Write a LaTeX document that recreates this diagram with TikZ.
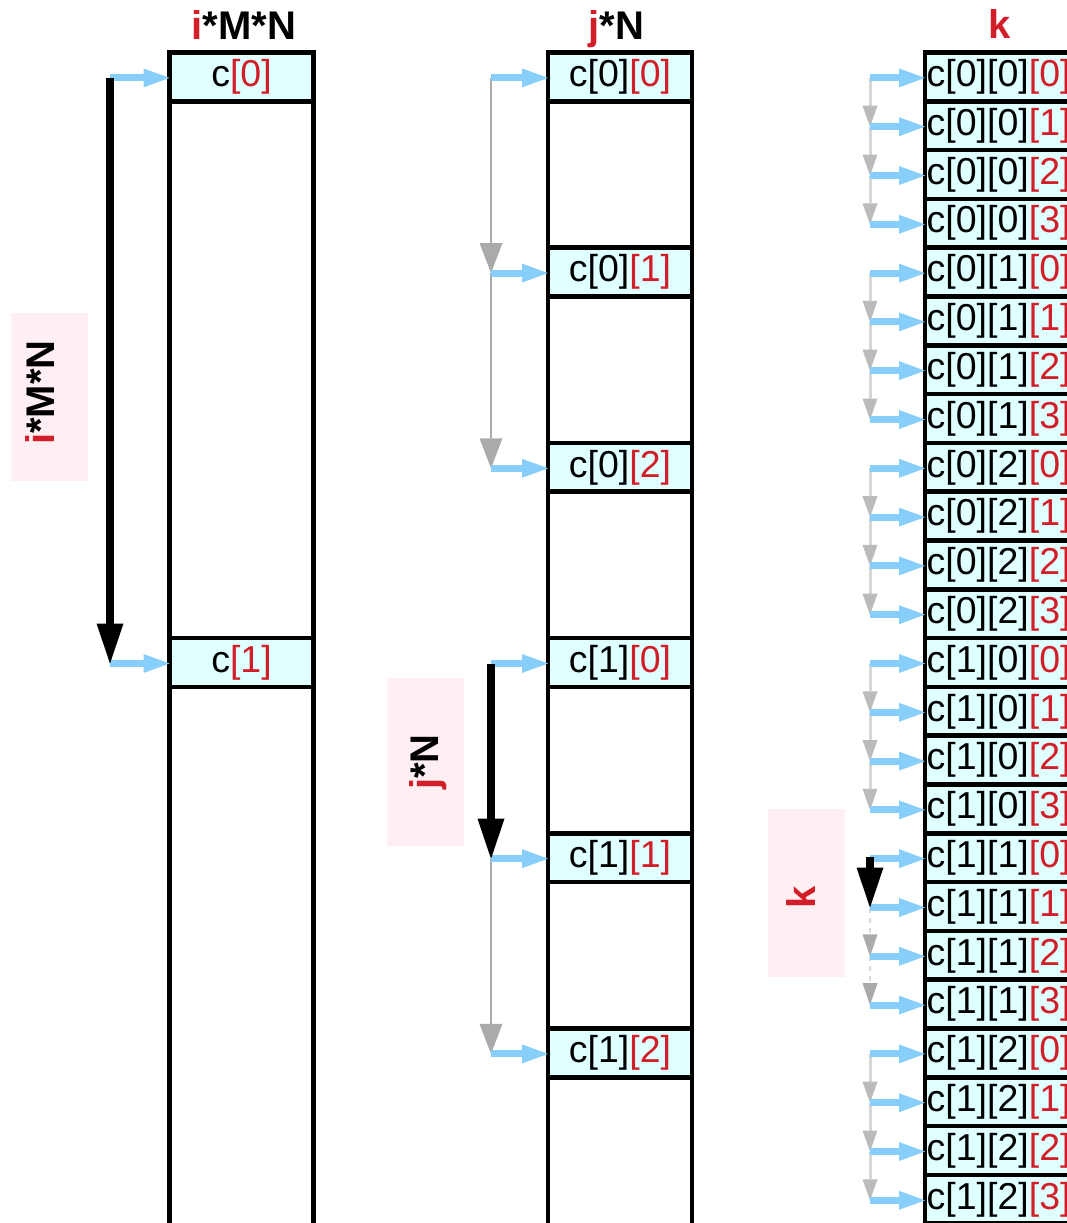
\documentclass[tikz,border=0pt]{standalone}
\usepackage{fontspec}
\setmainfont{Liberation Sans}
\usetikzlibrary{arrows.meta}
\definecolor{cellfill}{RGB}{224,255,255}
\definecolor{idxred}{RGB}{210,30,40}
\definecolor{blueA}{RGB}{135,206,250}
\definecolor{pinkbox}{RGB}{255,238,242}
\definecolor{grayA}{RGB}{170,170,170}
\definecolor{grayB}{RGB}{187,187,187}
\definecolor{grayC}{RGB}{215,215,215}
\newcommand{\rd}[1]{\textcolor{idxred}{#1}}
\begin{document}
\begin{tikzpicture}[x=1pt,y=-1pt,
  colbox/.style={draw=black,line width=4.5pt,fill=white},
  cell/.style={draw=black,line width=4.5pt,fill=cellfill,minimum width=144pt,minimum height=48.8pt,inner sep=0pt,outer sep=0pt,font=\fontsize{37.5}{40}\selectfont},
  celltext/.style={font=\fontsize{37.5}{40}\selectfont,inner sep=0pt,anchor=west},
  title/.style={font=\fontsize{40}{44}\selectfont\bfseries,anchor=base,inner sep=0pt},
  rlabel/.style={font=\fontsize{40}{44}\selectfont\bfseries,anchor=base,rotate=90,inner sep=0pt},
  pinkbg/.style={fill=pinkbox,draw=none,inner sep=0pt,minimum width=77pt,minimum height=168pt},
  bluearr/.style={draw=blueA,line width=7pt,-{Triangle[length=26pt,width=19pt,line width=0pt]}},
  blackarr/.style={draw=black,line width=7.5pt,-{Triangle[length=40pt,width=27pt,line width=0pt]}},
  grayarrJ/.style={draw=grayA,line width=1.5pt,-{Triangle[length=30pt,width=23pt,line width=0pt,color=grayA]}},
  grayarrK/.style={draw=grayC,line width=3pt,-{Triangle[length=21pt,width=15pt,line width=0pt,color=grayB]}},
  dasharrK/.style={draw=grayC,line width=2pt,dash pattern=on 5pt off 5pt,-{Triangle[length=22pt,width=15pt,line width=0pt,color=grayA]}}
]
\useasboundingbox (0,0) rectangle (1067,1223);
\clip (0,0) rectangle (1067,1223);

% titles
\node[title] (t1) at (244,40) {\rd{i}*M*N};
\node[title] (t2) at (616.5,40) {\rd{j}*N};
\node[title] (t3) at (1000,39) {\rd{k}};

% pink labels
\node[pinkbg] (p1) at (49,397) {};
\node[rlabel] (l1) at (54,392.5) {\rd{i}*M*N};
\node[pinkbg] (p2) at (425,761.5) {};
\node[rlabel] (l2) at (438,762) {\rd{j}*N};
\node[pinkbg] (p3) at (806,892.5) {};
\node[rlabel] (l3) at (815,897) {\rd{k}};

% column outlines
\draw[colbox] (169.5,52.5) rectangle (313.5,1250);
\draw[colbox] (548,52.5) rectangle (692,1250);

% column 1 cells
\node[cell] (a0) at (241.5,{52.5+0.5*48.8}) {c\rd{[0]}};
\node[cell] (a1) at (241.5,{52.5+12.5*48.8}) {c\rd{[1]}};
\coordinate (as0) at (110,{52.5+0.5*48.8+1});
\coordinate (as1) at (110,{52.5+12.5*48.8+1});

% column 2 cells
\foreach \m/\ii/\jj in {0/0/0,1/0/1,2/0/2,3/1/0,4/1/1,5/1/2}{
  \node[cell] (b\m) at (620,{52.5+(4*\m+0.5)*48.8}) {c[\ii]\rd{[\jj]}};
  \coordinate (bs\m) at (491,{52.5+(4*\m+0.5)*48.8+1});
}

% column 3 cells
\foreach \n in {0,...,23}{
  \pgfmathtruncatemacro\ii{int(\n/12)}
  \pgfmathtruncatemacro\jj{mod(int(\n/4),3)}
  \pgfmathtruncatemacro\kk{mod(\n,4)}
  \node[cell] (k\n) at (997,{52.5+(\n+0.5)*48.8}) {};
  \node[celltext] (kt\n) at ([xshift=1.5pt]k\n.west) {c[\ii][\jj]\rd{[\kk]}};
  \coordinate (ks\n) at (870,{52.5+(\n+0.5)*48.8+1});
}

% gray connectors column 2
\draw[grayarrJ] (bs0) -- (bs1);
\draw[grayarrJ] (bs1) -- (bs2);
\draw[grayarrJ] (bs4) -- (bs5);

% gray connectors column 3
\foreach \g in {0,1,2,3,5}{
  \pgfmathtruncatemacro\na{4*\g}
  \pgfmathtruncatemacro\nb{4*\g+1}
  \pgfmathtruncatemacro\nc{4*\g+2}
  \pgfmathtruncatemacro\nd{4*\g+3}
  \draw[grayarrK] (ks\na) -- (ks\nb);
  \draw[grayarrK] (ks\nb) -- (ks\nc);
  \draw[grayarrK] (ks\nc) -- (ks\nd);
}
\draw[dasharrK] (ks17) -- (ks18);
\draw[dasharrK] (ks18) -- (ks19);

% blue arrows
\draw[bluearr] (as0) -- (as0 -| a0.west);
\draw[bluearr] (as1) -- (as1 -| a1.west);
\foreach \m in {0,...,5}{
  \draw[bluearr] (bs\m) -- (bs\m -| b\m.west);
}
\foreach \n in {0,...,23}{
  \draw[bluearr] (ks\n) -- (ks\n -| k\n.west);
}

% black arrows
\draw[blackarr] (as0) -- (as1);
\draw[blackarr] (bs3) -- (bs4);
\draw[blackarr] ([yshift=2pt]ks16) -- (ks17);
\end{tikzpicture}
\end{document}
